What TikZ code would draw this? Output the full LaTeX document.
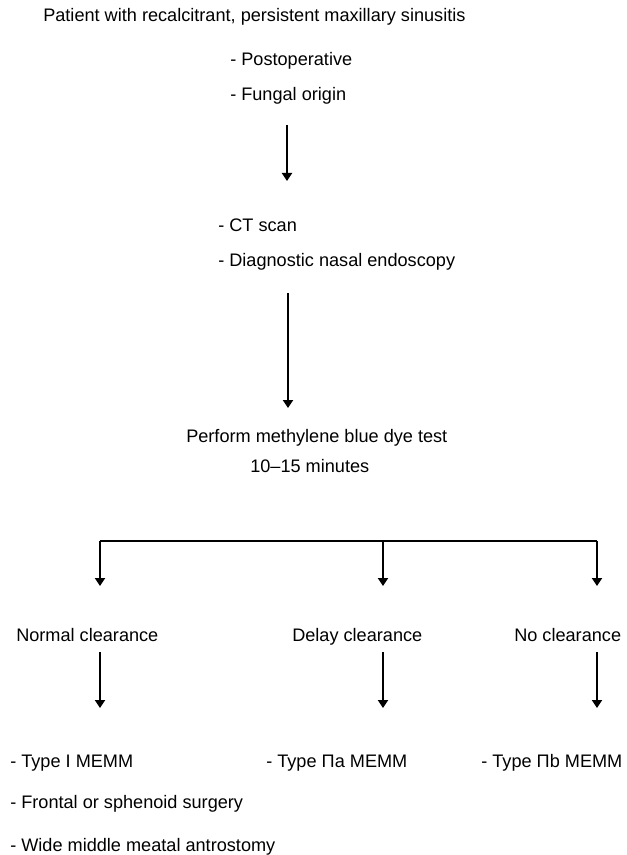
\documentclass[tikz,border=0pt]{standalone}
\usepackage{fontspec}
\setmainfont{Liberation Sans}
\usetikzlibrary{arrows.meta}

\tikzstyle{annot} = [inner sep=0pt, anchor=base west, font=\fontsize{13.6pt}{16pt}\selectfont]

\begin{document}
\begin{tikzpicture}[x=0.75pt, y=-0.75pt, >={Triangle[length=6pt,width=7.5pt]}]
	\tikzstyle{link}=[->, line width=1.8pt]
	\tikzstyle{bar}=[line width=1.6pt]
  \useasboundingbox (0,0) rectangle (626,855);
  \node[annot] (lvl0) at (43,22) {Patient with recalcitrant, persistent maxillary sinusitis};
    \node[annot] (lvl0-1) at (230,66) {- Postoperative};
    \node[annot] (lvl0-2) at (230,101) {- Fungal origin};
  \node[annot] (lvl1-1) at (218,232) {- CT scan};
    \node[annot] (lvl1-2) at (218,267) {- Diagnostic nasal endoscopy};
  \node[annot] (lvl2-1) at (186,442) {Perform methylene blue dye test};
    \node[annot] (lvl2-2) at (250,472) {10--15 minutes};
  \node[annot] (res0) at (16,641) {Normal clearance};
  \node[annot] (res1) at (292,641) {Delay clearance};
  \node[annot] (res2) at (514,641) {No clearance};
  \node[annot] (res0-1) at (10,767) {- Type I MEMM};
    \node[annot] (res0-2) at (10,808) {- Frontal or sphenoid surgery};
    \node[annot] (res0-3) at (10,851) {- Wide middle meatal antrostomy};
  \node[annot] (res1-1) at (266,767) {- Type Πa MEMM};
  \node[annot] (res2-1) at (481,767) {- Type Πb MEMM};
  % arrow ends
  \coordinate (a0) at (287,125); \coordinate (b0) at (287,181);
  \coordinate (a1) at (288,293); \coordinate (b1) at (288,408);
  \coordinate (fork) at (383,541);
  \coordinate (fl) at (100,541); \coordinate (fr) at (597,541);
  \coordinate (d0) at (100,586); \coordinate (d1) at (383,586); \coordinate (d2) at (597,586);
  \coordinate (e0) at (100,652); \coordinate (g0) at (100,708);
  \coordinate (e1) at (383,652); \coordinate (g1) at (383,708);
  \coordinate (e2) at (597,652); \coordinate (g2) at (597,708);
\draw[link] (a0) -- (b0);
\draw[link] (a1) -- (b1);
\draw[bar] (fl) -- (fr);
\draw[link] (fl) -- (d0);
\draw[link] (fork) -- (d1);
\draw[link] (fr) -- (d2);
\draw[link] (e0) -- (g0);
\draw[link] (e1) -- (g1);
\draw[link] (e2) -- (g2);
\end{tikzpicture}
\end{document}
